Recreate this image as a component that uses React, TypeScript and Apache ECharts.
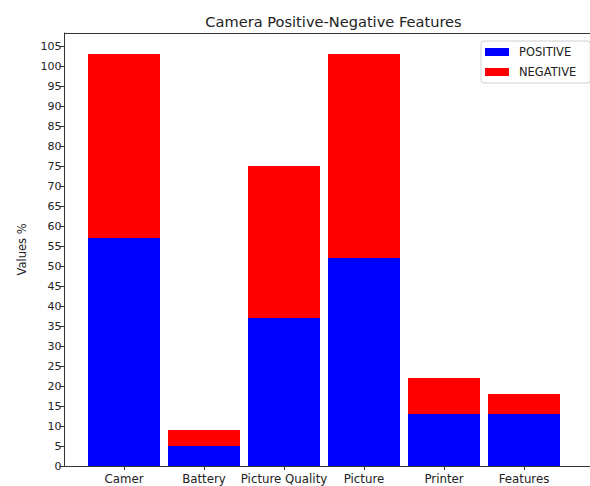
import React, { useEffect, useRef } from "react";
import * as echarts from "echarts";

const categories = ["Camer", "Battery", "Picture Quality", "Picture", "Printer", "Features"];
const positiveValues = [57, 5, 37, 52, 13, 13];
const negativeValues = [46, 4, 38, 51, 9, 5];
const seriesNames = ["POSITIVE", "NEGATIVE"];
const yTickStep = 5;
const yMax = 105;

const FONT = "DejaVu Sans";
const AXIS_COLOR = "#333";

export default function App() {
  const ref = useRef<HTMLDivElement>(null);
  useEffect(() => {
    if (!ref.current) return;
    const chart = echarts.init(ref.current, null, { renderer: "svg" });
    const frameAxis = {
      type: "value",
      gridIndex: 1,
      min: 0,
      max: 1,
      axisLine: { show: true, lineStyle: { color: AXIS_COLOR, width: 1 } },
      axisTick: { show: false },
      axisLabel: { show: false },
      splitLine: { show: false },
    };
    chart.setOption({
      animation: false,
      backgroundColor: "#ffffff",
      textStyle: { fontFamily: FONT },
      title: {
        text: "Camera Positive-Negative Features",
        left: 328.5,
        textAlign: "center",
        top: 9,
        textStyle: { fontFamily: FONT, fontSize: 14.6, fontWeight: "normal", color: "#222" },
      },
      legend: {
        data: seriesNames,
        orient: "vertical",
        left: 481,
        top: 41,
        itemWidth: 24,
        itemHeight: 8,
        itemGap: 8,
        padding: [5, 14, 5, 4],
        borderColor: "#d0d0d0",
        borderWidth: 1,
        borderRadius: 3,
        icon: "rect",
        textStyle: {
          fontFamily: FONT,
          fontSize: 11.5,
          color: "#222",
          lineHeight: 12,
          padding: [0, 0, 0, 5],
        },
      },
      grid: [
        { left: 84, top: 46, width: 480, height: 420, containLabel: false },
        { left: 64.5, top: 33, width: 540, height: 433, containLabel: false },
      ],
      xAxis: [
        {
          type: "category",
          gridIndex: 0,
          data: categories,
          boundaryGap: true,
          axisLine: { show: false },
          axisTick: { show: true, alignWithLabel: true, length: 4, lineStyle: { color: AXIS_COLOR } },
          axisLabel: { fontFamily: FONT, fontSize: 11.8, color: "#222", margin: 7, interval: 0 },
          splitLine: { show: false },
        },
        { ...frameAxis, position: "bottom" },
        { ...frameAxis, position: "top" },
      ],
      yAxis: [
        {
          type: "value",
          gridIndex: 0,
          min: 0,
          max: yMax,
          interval: yTickStep,
          offset: 19.5,
          axisLine: { show: false },
          axisTick: { show: true, length: 5, lineStyle: { color: AXIS_COLOR } },
          axisLabel: { fontFamily: FONT, fontSize: 11, color: "#222", margin: 3 },
          splitLine: { show: false },
        },
        {
          ...frameAxis,
          position: "left",
          name: "Values %",
          nameLocation: "middle",
          nameGap: 37,
          nameTextStyle: { fontFamily: FONT, fontSize: 11.5, color: "#222" },
        },
      ],
      series: [
        {
          name: seriesNames[0],
          type: "bar",
          stack: "total",
          xAxisIndex: 0,
          yAxisIndex: 0,
          data: positiveValues,
          barWidth: "90%",
          itemStyle: { color: "#0000ff" },
        },
        {
          name: seriesNames[1],
          type: "bar",
          stack: "total",
          xAxisIndex: 0,
          yAxisIndex: 0,
          data: negativeValues,
          barWidth: "90%",
          itemStyle: { color: "#ff0000" },
        },
      ],
    });
    return () => chart.dispose();
  }, []);
  return (
    <div
      ref={ref}
      style={{ position: "fixed", left: 0, top: 0, width: 590, height: 486 }}
    />
  );
}
